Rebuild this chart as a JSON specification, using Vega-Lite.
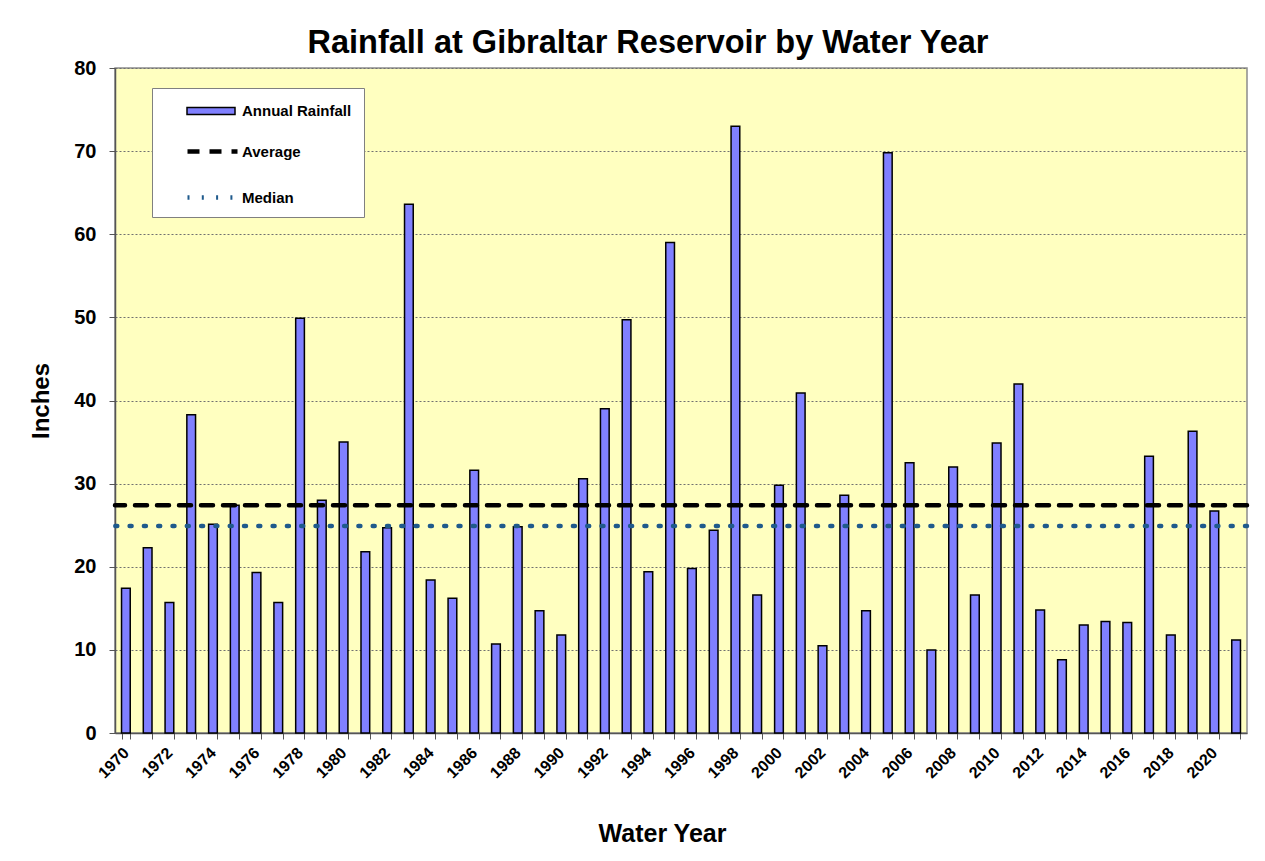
{
  "$schema": "https://vega.github.io/schema/vega-lite/v6.json",
  "width": 1132,
  "height": 665,
  "autosize": {"type": "none"},
  "padding": {"left": 115, "top": 68, "right": 18, "bottom": 128},
  "background": "white",
  "title": {
    "text": "Rainfall at Gibraltar Reservoir by Water Year",
    "font": "Liberation Sans",
    "fontSize": 32.5,
    "fontWeight": "bold",
    "color": "black",
    "anchor": "middle",
    "dx": -33,
    "offset": -1
  },
  "datasets": {
    "rain": [
      {"year": "1970", "inches": 17.4}, {"year": "1971", "inches": 22.3}, {"year": "1972", "inches": 15.7},
      {"year": "1973", "inches": 38.3}, {"year": "1974", "inches": 25.1}, {"year": "1975", "inches": 27.4},
      {"year": "1976", "inches": 19.3}, {"year": "1977", "inches": 15.7}, {"year": "1978", "inches": 49.9},
      {"year": "1979", "inches": 28.0}, {"year": "1980", "inches": 35.0}, {"year": "1981", "inches": 21.8},
      {"year": "1982", "inches": 24.7}, {"year": "1983", "inches": 63.6}, {"year": "1984", "inches": 18.4},
      {"year": "1985", "inches": 16.2}, {"year": "1986", "inches": 31.6}, {"year": "1987", "inches": 10.7},
      {"year": "1988", "inches": 24.8}, {"year": "1989", "inches": 14.7}, {"year": "1990", "inches": 11.8},
      {"year": "1991", "inches": 30.6}, {"year": "1992", "inches": 39.0}, {"year": "1993", "inches": 49.7},
      {"year": "1994", "inches": 19.4}, {"year": "1995", "inches": 59.0}, {"year": "1996", "inches": 19.8},
      {"year": "1997", "inches": 24.4}, {"year": "1998", "inches": 73.0}, {"year": "1999", "inches": 16.6},
      {"year": "2000", "inches": 29.8}, {"year": "2001", "inches": 40.9}, {"year": "2002", "inches": 10.5},
      {"year": "2003", "inches": 28.6}, {"year": "2004", "inches": 14.7}, {"year": "2005", "inches": 69.8},
      {"year": "2006", "inches": 32.5}, {"year": "2007", "inches": 10.0}, {"year": "2008", "inches": 32.0},
      {"year": "2009", "inches": 16.6}, {"year": "2010", "inches": 34.9}, {"year": "2011", "inches": 42.0},
      {"year": "2012", "inches": 14.8}, {"year": "2013", "inches": 8.8}, {"year": "2014", "inches": 13.0},
      {"year": "2015", "inches": 13.4}, {"year": "2016", "inches": 13.3}, {"year": "2017", "inches": 33.3},
      {"year": "2018", "inches": 11.8}, {"year": "2019", "inches": 36.3}, {"year": "2020", "inches": 26.7},
      {"year": "2021", "inches": 11.2}
    ],
    "stats": [
      {"series": "Average", "value": 27.4},
      {"series": "Median", "value": 24.9}
    ]
  },
  "config": {
    "view": {"fill": "#FFFFC0", "stroke": "#8c8c8c", "strokeWidth": 1.5},
    "font": "Liberation Sans"
  },
  "layer": [
    {
      "data": {"name": "rain"},
      "mark": {"type": "bar", "stroke": "black", "strokeWidth": 1.5, "cornerRadius": 0},
      "encoding": {
        "x": {
          "field": "year",
          "type": "nominal",
          "sort": null,
          "scale": {"paddingInner": 0.6, "paddingOuter": 0.3},
          "axis": {
            "title": "Water Year",
            "titleFont": "Liberation Sans",
            "titleFontSize": 25,
            "titleFontWeight": "bold",
            "titleColor": "black",
            "titlePadding": 41,
            "titleX": 547,
            "labelFont": "Liberation Sans",
            "labelFontSize": 16,
            "labelFontWeight": "bold",
            "labelColor": "black",
            "labelAngle": -45,
            "labelAlign": "right",
            "labelBaseline": "middle",
            "labelPadding": 11,
            "labelOverlap": false,
            "labelExpr": "parseInt(datum.value) % 2 == 0 ? datum.value : ''",
            "tickBand": "extent",
            "tickSize": 6,
            "tickColor": "#555",
            "domainColor": "#555",
            "domainWidth": 1.5,
            "grid": false
          }
        },
        "y": {
          "field": "inches",
          "type": "quantitative",
          "scale": {"domain": [0, 80], "nice": false},
          "axis": {
            "title": "Inches",
            "titleFont": "Liberation Sans",
            "titleFontSize": 24,
            "titleFontWeight": "bold",
            "titleColor": "black",
            "titlePadding": 20,
            "values": [0, 10, 20, 30, 40, 50, 60, 70, 80],
            "labelFont": "Liberation Sans",
            "labelFontSize": 20,
            "labelFontWeight": "bold",
            "labelColor": "black",
            "labelPadding": 13,
            "tickSize": 6,
            "tickColor": "#555",
            "domainColor": "#555",
            "domainWidth": 1.5,
            "grid": true,
            "gridColor": "#707070",
            "gridDash": [2, 2],
            "gridWidth": 1
          }
        },
        "fill": {
          "datum": "Annual Rainfall",
          "type": "nominal",
          "scale": {"domain": ["Annual Rainfall"], "range": ["#8080FF"]},
          "legend": {
            "title": "\u00a0",
            "titleOrient": "bottom",
            "titleFontSize": 15,
            "titlePadding": 71,
            "titleAnchor": "start",
            "orient": "none",
            "legendX": 37,
            "legendY": 20,
            "fillColor": "white",
            "strokeColor": "#808080",
            "padding": 12,
            "symbolSize": 400,
            "symbolType": "M-2.4,-0.35H2.4V0.35H-2.4Z",
            "symbolStrokeColor": "black",
            "symbolStrokeWidth": 1.5,
            "symbolOffset": 36,
            "labelOffset": 20,
            "labelFont": "Liberation Sans",
            "labelFontSize": 15,
            "labelFontWeight": "bold",
            "labelColor": "black"
          }
        }
      }
    },
    {
      "data": {"name": "stats"},
      "mark": {"type": "rule", "strokeWidth": 4.5, "strokeCap": "round"},
      "encoding": {
        "y": {"field": "value", "type": "quantitative"},
        "stroke": {
          "field": "series",
          "type": "nominal",
          "scale": {"domain": ["Average", "Median"], "range": ["#000000", "#1F5A8C"]},
          "legend": {
            "title": null,
            "orient": "none",
            "legendX": 37,
            "legendY": 59,
            "padding": 12,
            "symbolSize": 400,
            "symbolType": "M-2.5,0H2.5",
            "symbolStrokeWidth": 4.5,
            "symbolOffset": 36,
            "rowPadding": 24,
            "labelOffset": 17,
            "labelFont": "Liberation Sans",
            "labelFontSize": 15,
            "labelFontWeight": "bold",
            "labelColor": "black"
          }
        },
        "strokeDash": {
          "field": "series",
          "type": "nominal",
          "scale": {"domain": ["Average", "Median"], "range": [[12, 10], [2, 12.3]]}
        }
      }
    }
  ]
}
